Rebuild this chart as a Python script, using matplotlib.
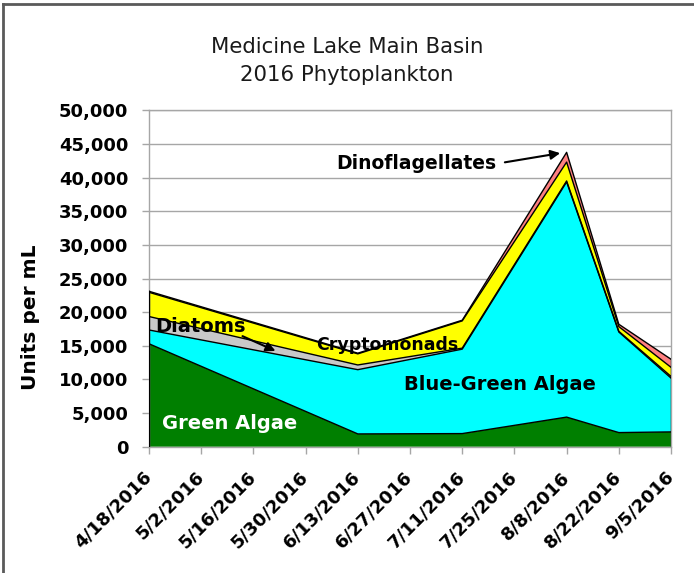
import matplotlib.pyplot as plt
import numpy as np
from datetime import date
from matplotlib.lines import Line2D

### Data ###
sample_dates = ["4/18/2016", "6/13/2016", "7/11/2016", "8/8/2016", "8/22/2016", "9/5/2016"]
green_algae = [15300, 1900, 1950, 4400, 2100, 2200]
blue_green_algae = [2050, 9550, 12550, 34950, 14950, 8000]
diatoms = [2000, 700, 150, 150, 100, 250]
cryptomonads = [3600, 1650, 4050, 2800, 700, 1350]
dinoflagellates = [150, 100, 100, 1450, 350, 1200]

tick_dates = ["4/18/2016", "5/2/2016", "5/16/2016", "5/30/2016", "6/13/2016", "6/27/2016",
              "7/11/2016", "7/25/2016", "8/8/2016", "8/22/2016", "9/5/2016"]

series_names = ["Green Algae", "Blue-Green Algae", "Diatoms", "Cryptomonads", "Dinoflagellates"]
series_colors = ["#007F00", "#00FFFF", "#C8C8C8", "#FFFF00", "#FF8080"]


def to_day(s):
    m, d, y = [int(v) for v in s.split('/')]
    return (date(y, m, d) - date(2016, 4, 18)).days


x = np.array([to_day(s) for s in sample_dates])
ticks = [to_day(s) for s in tick_dates]

fig = plt.figure(figsize=(6.94, 5.73), dpi=100)
ax = fig.add_axes([0.2147, 0.2204, 0.9669 - 0.2147, 0.8075 - 0.2204])

stack = [green_algae, blue_green_algae, diatoms, cryptomonads, dinoflagellates]
base = np.zeros(len(x))
for vals, col in zip(stack, series_colors):
    top = base + np.array(vals)
    ax.fill_between(x, base, top, facecolor=col, edgecolor='none', zorder=2)
    ax.plot(x, top, color='black', lw=1.0, zorder=3)
    base = top
ax.plot([x[-1], x[-1]], [0, base[-1]], color='black', lw=1.0, zorder=3)
ax.plot([x[0], x[0]], [0, base[0]], color='black', lw=1.0, zorder=3)

ax.set_xlim(0, 140)
ax.set_ylim(0, 50000)
ax.set_yticks(np.arange(0, 50001, 5000))
ax.set_yticklabels([f"{v:,}" for v in range(0, 50001, 5000)])
ax.set_xticks(ticks)
ax.set_xticklabels(tick_dates, rotation=45, ha='right', va='center', rotation_mode='anchor')
ax.grid(axis='y', color='#A6A6A6', lw=1.0, zorder=1)
for sp in ax.spines.values():
    sp.set_color('#A6A6A6')
    sp.set_linewidth(1.0)
ax.tick_params(axis='both', direction='out', length=5, color='#A6A6A6', width=1.0,
               labelsize=13)
ax.tick_params(axis='y', pad=10)
ax.tick_params(axis='x', pad=15)
for lab in ax.get_xticklabels() + ax.get_yticklabels():
    lab.set_fontweight('bold')
    lab.set_family('DejaVu Sans')

ax.set_ylabel("Units per mL", fontsize=14.5, fontweight='bold')
ax.yaxis.set_label_coords(-0.209, 0.386)

### Series labels placed on the chart ###
ax.text(21.5, 3400, "Green Algae", color='white', fontsize=14, fontweight='bold',
        ha='center', va='center', zorder=5)
ax.text(94, 9300, "Blue-Green Algae", color='black', fontsize=14, fontweight='bold',
        ha='center', va='center', zorder=5)
ax.text(13.7, 17800, "Diatoms", color='black', fontsize=14, fontweight='bold',
        ha='center', va='center', zorder=5)
ax.text(64, 15100, "Cryptomonads", color='black', fontsize=12.5, fontweight='bold',
        ha='center', va='center', zorder=5)
ax.text(71.6, 42150, "Dinoflagellates", color='black', fontsize=13.5, fontweight='bold',
        ha='center', va='center', zorder=5)

ax.annotate("", xy=(34.6, 14070), xytext=(24.4, 16600),
            arrowprops=dict(arrowstyle='-|>', color='black', lw=1.5, mutation_scale=14), zorder=6)
ax.annotate("", xy=(111.0, 43700), xytext=(94.7, 42200),
            arrowprops=dict(arrowstyle='-|>', color='black', lw=1.5, mutation_scale=14), zorder=6)

fig.text(0.5, 1 - 61 / 573, "Medicine Lake Main Basin\n2016 Phytoplankton",
         ha='center', va='center', fontsize=15.3, linespacing=1.5, color='#1A1A1A',
         family='DejaVu Sans')

### Outer frame (top and left edges visible) ###
fig.add_artist(Line2D([3 / 694, 1], [1 - 4 / 573, 1 - 4 / 573], transform=fig.transFigure,
                      color='#5A5A5A', lw=2))
fig.add_artist(Line2D([3 / 694, 3 / 694], [0, 1 - 4 / 573], transform=fig.transFigure,
                      color='#5A5A5A', lw=2))

fig.savefig("out.png", dpi=100)
